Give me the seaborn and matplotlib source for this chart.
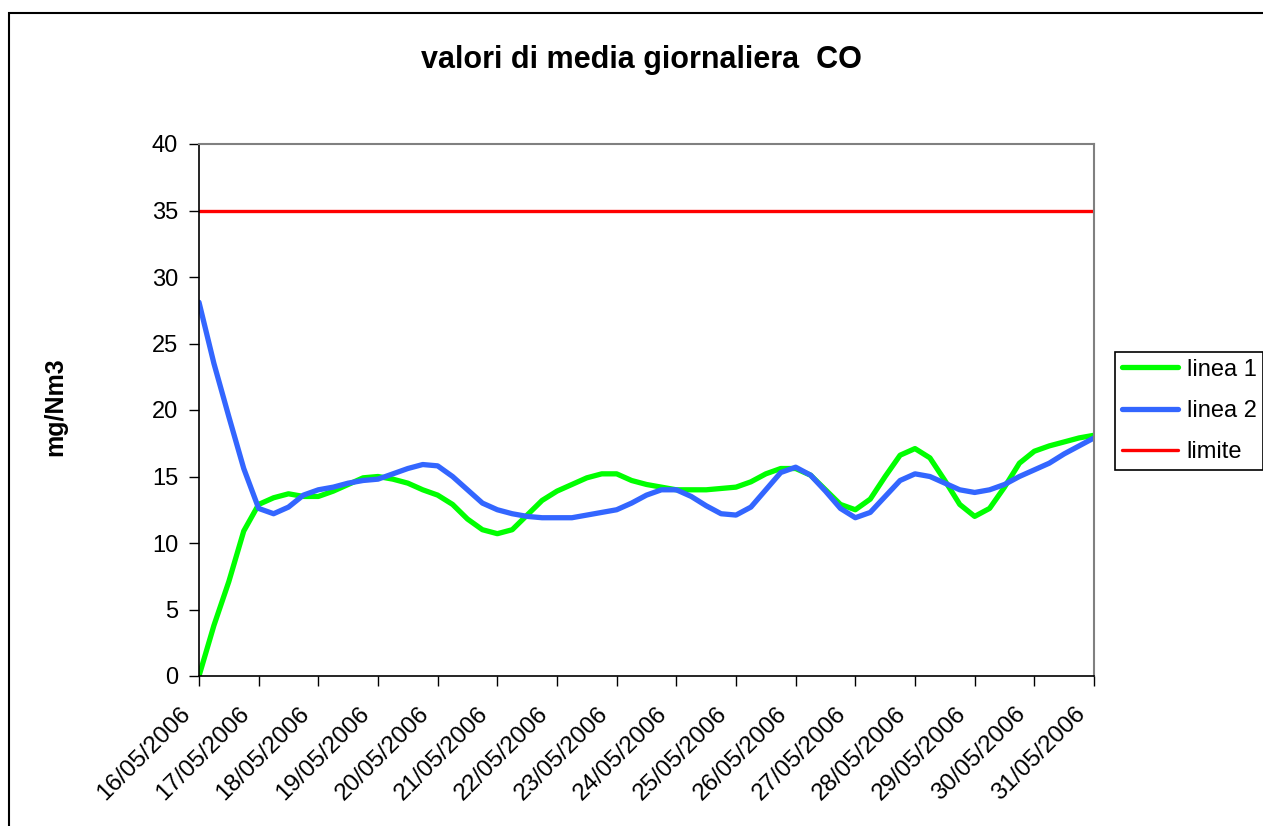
import numpy as np
import pandas as pd
import seaborn as sns
import matplotlib.pyplot as plt
from matplotlib.patches import Rectangle
from matplotlib.transforms import ScaledTranslation

sns.set_theme(style='white')
plt.rcParams['font.family'] = ['Liberation Sans', 'DejaVu Sans']
plt.rcParams['text.color'] = 'black'
plt.rcParams['axes.labelcolor'] = 'black'
plt.rcParams['xtick.color'] = 'black'
plt.rcParams['ytick.color'] = 'black'

# day labels on the category axis
dates = ['16/05/2006', '17/05/2006', '18/05/2006', '19/05/2006',
         '20/05/2006', '21/05/2006', '22/05/2006', '23/05/2006',
         '24/05/2006', '25/05/2006', '26/05/2006', '27/05/2006',
         '28/05/2006', '29/05/2006', '30/05/2006', '31/05/2006']

# readings every 6 hours (4 per day)
linea_1 = [0.0, 3.8, 7.1, 10.9, 12.9, 13.4, 13.7, 13.5,
           13.5, 13.9, 14.4, 14.9, 15.0, 14.8, 14.5, 14.0,
           13.6, 12.9, 11.8, 11.0, 10.7, 11.0, 12.1, 13.2,
           13.9, 14.4, 14.9, 15.2, 15.2, 14.7, 14.4, 14.2,
           14.0, 14.0, 14.0, 14.1, 14.2, 14.6, 15.2, 15.6,
           15.6, 15.1, 14.0, 12.9, 12.5, 13.3, 15.0, 16.6,
           17.1, 16.4, 14.7, 12.9, 12.0, 12.6, 14.2, 16.0,
           16.9, 17.3, 17.6, 17.9, 18.1]
linea_2 = [28.1, 23.5, 19.5, 15.6, 12.6, 12.2, 12.7, 13.6,
           14.0, 14.2, 14.5, 14.7, 14.8, 15.2, 15.6, 15.9,
           15.8, 15.0, 14.0, 13.0, 12.5, 12.2, 12.0, 11.9,
           11.9, 11.9, 12.1, 12.3, 12.5, 13.0, 13.6, 14.0,
           14.0, 13.5, 12.8, 12.2, 12.1, 12.7, 14.0, 15.3,
           15.7, 15.1, 13.9, 12.6, 11.9, 12.3, 13.5, 14.7,
           15.2, 15.0, 14.5, 14.0, 13.8, 14.0, 14.4, 15.0,
           15.5, 16.0, 16.7, 17.3, 17.9]
limite = 35


def main():
    giorno = np.arange(len(linea_1)) * 0.25
    df = pd.DataFrame({'giorno': giorno, 'linea 1': linea_1,
                       'linea 2': linea_2})
    df_lim = pd.DataFrame({'giorno': np.arange(len(dates)),
                           'limite': [limite] * len(dates)})

    fig = plt.figure(figsize=(12.63, 8.26), dpi=100)
    ax = fig.add_axes([199 / 1263, 1 - 676 / 826,
                       (1094 - 199) / 1263, (676 - 144) / 826])

    sns.lineplot(data=df, x='giorno', y='linea 1', color='#00FF00',
                 linewidth=3.8, label='linea 1', ax=ax)
    sns.lineplot(data=df, x='giorno', y='linea 2', color='#3366FF',
                 linewidth=3.8, label='linea 2', ax=ax)
    sns.lineplot(data=df_lim, x='giorno', y='limite', color='#FF0000',
                 linewidth=2.4, label='limite', ax=ax)

    ax.set_xlim(0, len(dates) - 1)
    ax.set_ylim(0, 40)
    ax.set_yticks(range(0, 41, 5))
    ax.set_xticks(range(len(dates)))
    ax.set_xticklabels(dates, rotation=45, ha='right', va='top',
                       rotation_mode='anchor')
    ax.tick_params(axis='both', color='black', direction='out',
                   length=7, width=1, pad=8, left=True, bottom=True)
    ax.tick_params(axis='y', labelsize=17)
    ax.tick_params(axis='x', labelsize=17.5)
    shift = ScaledTranslation(-0.2, -0.06, fig.dpi_scale_trans)
    for lab in ax.get_xticklabels():
        lab.set_transform(lab.get_transform() + shift)
    for side in ['left', 'bottom']:
        ax.spines[side].set_color('black')
        ax.spines[side].set_linewidth(1.2)
    for side in ['top', 'right']:
        ax.spines[side].set_color('#808080')
        ax.spines[side].set_linewidth(1.5)

    ax.set_xlabel('')
    ax.set_ylabel('')
    fig.text(55 / 1263, 1 - 407 / 826, 'mg/Nm3', fontsize=18,
             fontweight='bold', rotation=90, ha='center', va='center')
    fig.text(641 / 1263, 1 - 60 / 826, 'valori di media giornaliera  CO',
             fontsize=22, fontweight='bold', ha='center', va='center')

    leg = ax.legend(loc='upper left', bbox_to_anchor=(1115 / 1263, 1 - 352 / 826),
                    bbox_transform=fig.transFigure, fontsize=17,
                    frameon=True, fancybox=False, framealpha=1,
                    edgecolor='black', borderpad=0.28, handlelength=2.4,
                    handletextpad=0.35, labelspacing=0.82, borderaxespad=0)
    leg.get_frame().set_linewidth(1.2)

    fig.patches.append(Rectangle((9 / 1263, -0.1), 2, 1 - 13 / 826 + 0.1,
                                 transform=fig.transFigure, fill=False,
                                 edgecolor='black', linewidth=1.5))

    fig.savefig('out.png', dpi=100)


if __name__ == '__main__':
    main()
